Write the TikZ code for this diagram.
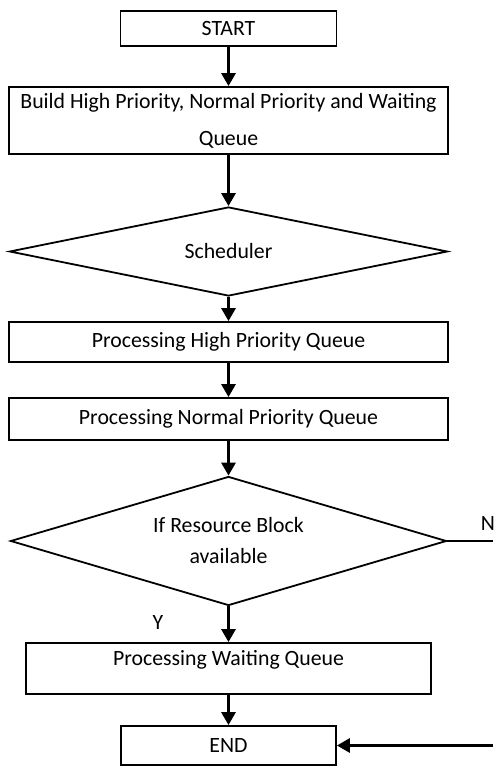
\documentclass[tikz,border=0pt]{standalone}
\usepackage{fontspec}
\setmainfont{Carlito}
\usetikzlibrary{shapes.geometric,arrows.meta}
\begin{document}
\begin{tikzpicture}[x=0.5pt,y=-0.5pt,
	every node/.style={font=\fontsize{10.9}{13.1}\selectfont},
	box/.style={draw,line width=0.9pt,inner sep=0pt},
	dia/.style={draw,diamond,line width=0.9pt,inner sep=0pt},
	arr/.style={line width=1.5pt,-{Triangle[width=7pt,length=6.5pt]}}]
		\useasboundingbox (0,0) rectangle (493,766);
		
		\node[box,minimum width=108pt,minimum height=17.5pt] (A) at (228.5,28.5) {START};
		\node[box,align=center,minimum width=219.5pt,minimum height=33.5pt] (B) at (228.5,120.5) {Build High Priority, Normal Priority and Waiting\\[5.4pt]Queue};
		\node[dia,aspect=4.9,minimum width=219pt,minimum height=44.5pt] (C) at (228.5,251.5) {Scheduler};
		\node[box,minimum width=219.5pt,minimum height=20pt] (D) at (228.5,342) {Processing High Priority Queue};
		\node[box,minimum width=219.5pt,minimum height=21pt] (E) at (228.5,419) {Processing Normal Priority Queue};
		\node[dia,aspect=3.4,align=center,minimum width=218pt,minimum height=64.5pt] (F) at (228.5,541) {If Resource Block\\[2.4pt]available};
		\node[box,minimum width=202.5pt,text height=11pt,text depth=14.5pt] (G) at (228.5,668.5) {Processing Waiting Queue};
		\node[box,minimum width=107.5pt,minimum height=19.5pt] (H) at (228.5,745.5) {END};
		
		\node (N) at (488,523) {N};
		\node (Y) at (158,622) {Y};
		\coordinate (n) at (493,541);
		\coordinate (m) at (493,745.5);
		
		\draw[arr] (A) -- (B);
		\draw[arr] (B) -- (C);
		\draw[arr] (C) -- (D);
		\draw[arr] (D) -- (E);
		\draw[arr] (E) -- (F);
		\draw[arr] (F) -- (G);
		\draw[arr] (G) -- (H);
		\draw[line width=1pt] (F.east) -- (n);
		\draw[arr] (m) -- (H.east);
	\end{tikzpicture}
\end{document}
